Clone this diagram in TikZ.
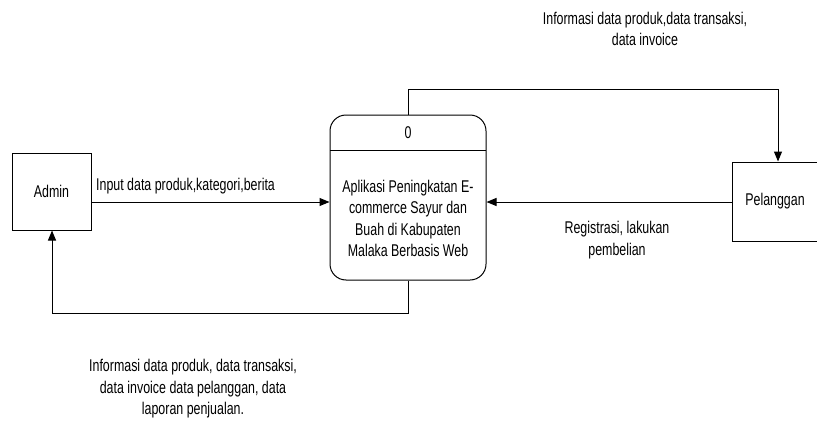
\documentclass[tikz,border=0pt]{standalone}
\usepackage{fontspec}
\setmainfont{Liberation Sans}[FakeStretch=0.73]
\usetikzlibrary{arrows.meta}
\begin{document}
\begin{tikzpicture}[x=1pt,y=-1pt,
  font=\fontsize{17}{21.5}\selectfont,
  ent/.style={draw,line width=1pt,minimum width=79pt,minimum height=77pt,inner sep=0pt},
  flow/.style={line width=1pt,-{Triangle[length=10pt,width=8pt]}},
  lbl/.style={align=center,inner sep=0pt}]
\useasboundingbox (0,0) rectangle (817,423);
% external entities
\node[ent] (admin) at (51.5,191.5) {Admin};
\node[ent,minimum width=85pt,minimum height=79pt] (pel) at (775,201.5) {Pelanggan};
% process
\node[draw,line width=1pt,rounded corners=16pt,minimum width=156pt,minimum height=165pt,inner sep=0pt] (proc) at (408,197.5) {};
\draw[line width=1pt] (330,150) -- (486,150);
\node (num) at (408,133) {0};
\node[lbl] (ptxt) at (408,218.5) {Aplikasi Peningkatan E-\\commerce Sayur dan\\Buah di Kabupaten\\Malaka Berbasis Web};
% coordinates for bends
\coordinate (tl) at (408,89);
\coordinate (tr) at (778,89);
\coordinate (bl) at (52,313);
\coordinate (br) at (408,313);
% flows
\draw[flow] (admin.east |- 0,202) -- (proc.west |- 0,202);
\draw[flow] (pel.west |- 0,202) -- (proc.east |- 0,202);
\draw[flow] (proc.north -| tl) -- (tl) -- (tr) -- (pel.north -| tr);
\draw[flow] (proc.south -| br) -- (br) -- (bl) -- (admin.south -| bl);
% labels
\node[lbl,anchor=west] (l1) at (96,186) {Input data produk,kategori,berita};
\node[lbl] (l2) at (645,29) {Informasi data produk,data transaksi,\\data invoice};
\node[lbl] (l3) at (617,240) {Registrasi, lakukan\\pembelian};
\node[lbl] (l4) at (193,389) {Informasi data produk, data transaksi,\\data invoice data pelanggan, data\\laporan penjualan.};
\end{tikzpicture}
\end{document}
